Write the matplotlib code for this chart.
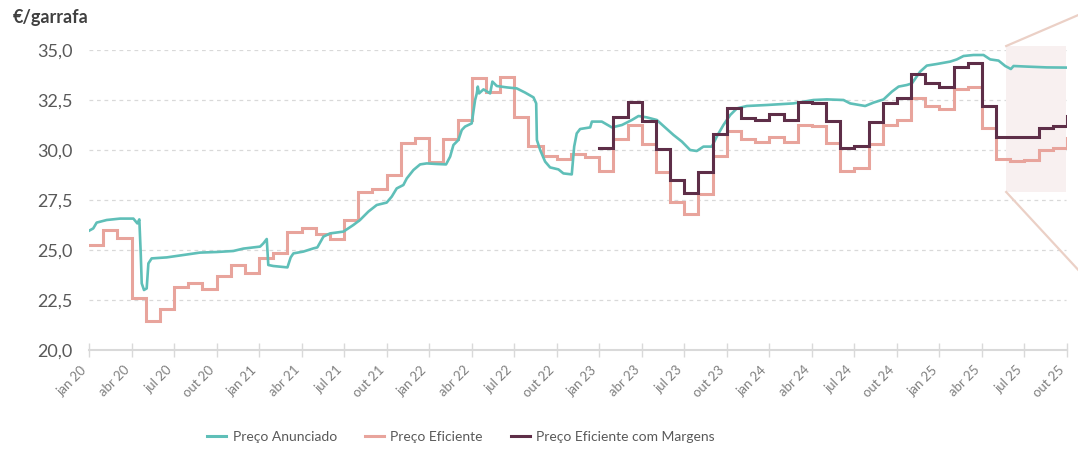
import matplotlib
matplotlib.use("Agg")
import matplotlib.pyplot as plt
from matplotlib.patches import Rectangle
from matplotlib.lines import Line2D
from matplotlib.ticker import FuncFormatter, FixedLocator

plt.rcParams['font.family'] = ['Lato', 'DejaVu Sans']

# ---------------- data ----------------
# x axis: months since jan 2020 (0 = jan 20, 69 = out 25)
month_names = ["jan", "abr", "jul", "out"]
years = ["20", "21", "22", "23", "24", "25"]
tick_labels = [f"{m} {y}" for y in years for m in month_names]

# Preço Anunciado (continuous series): month position, value
anunciado_x = [0.02, 0.30, 0.54, 1.25, 2.19, 3.13, 3.41, 3.55, 3.65, 3.72, 3.88, 4.07, 4.19, 4.42,
               5.48, 6.66, 7.83, 9.01, 10.18, 10.89, 12.07, 12.30, 12.54, 12.65, 13.00, 14.00,
               14.23, 14.42, 15.12, 15.83, 16.11, 16.54, 17.01, 17.95, 18.65, 19.12, 19.71, 20.30,
               21.00, 21.36, 21.71, 22.18, 22.42, 22.89, 23.36, 23.83, 24.53, 25.19, 25.48, 25.71,
               26.06, 26.30, 26.53, 27.00, 27.24, 27.36, 27.43, 27.52, 27.83, 28.30, 28.46, 28.77,
               29.48, 30.18, 30.77, 31.36, 31.55, 31.60, 31.83, 32.18, 32.53, 33.12, 33.47, 34.06,
               34.23, 34.41, 34.65, 35.36, 35.48, 36.18, 36.89, 37.60, 38.30, 38.77, 39.36, 40.06,
               40.53, 41.24, 41.83, 42.41, 42.88, 43.35, 43.94, 44.29, 44.76, 45.24, 45.71, 46.41,
               47.82, 49.70, 51.11, 52.06, 53.23, 53.70, 54.76, 55.35, 56.06, 56.65, 57.12, 57.70,
               58.06, 58.64, 59.11, 59.82, 60.76, 61.23, 61.70, 62.40, 63.11, 63.58, 64.17, 64.64,
               65.04, 65.23, 66.17, 67.58, 69.00]
anunciado_y = [25.97, 26.08, 26.37, 26.50, 26.57, 26.57, 26.33, 26.53, 24.83, 23.33, 23.00, 23.08, 24.33, 24.58,
               24.63, 24.75, 24.87, 24.90, 24.95, 25.07, 25.17, 25.33, 25.55, 24.25, 24.20, 24.13,
               24.63, 24.83, 24.92, 25.08, 25.13, 25.67, 25.83, 25.92, 26.25, 26.50, 26.92, 27.25,
               27.37, 27.67, 28.08, 28.25, 28.58, 29.00, 29.28, 29.33, 29.30, 29.28, 29.67, 30.25,
               30.50, 31.00, 31.17, 31.33, 32.50, 32.83, 33.17, 32.83, 33.03, 32.83, 33.42, 33.20,
               33.13, 33.08, 32.87, 32.63, 32.33, 30.50, 30.00, 29.42, 29.13, 29.03, 28.83, 28.78,
               30.17, 30.83, 31.05, 31.13, 31.42, 31.42, 31.13, 31.25, 31.50, 31.70, 31.63, 31.50,
               31.20, 30.75, 30.42, 30.00, 29.95, 30.17, 30.17, 30.67, 31.25, 31.75, 32.08, 32.20,
               32.25, 32.33, 32.50, 32.53, 32.50, 32.33, 32.20, 32.37, 32.53, 32.92, 33.17, 33.25,
               33.33, 33.92, 34.22, 34.30, 34.42, 34.53, 34.70, 34.75, 34.75, 34.53, 34.47, 34.20,
               34.05, 34.20, 34.17, 34.13, 34.12]

# Preço Eficiente (monthly steps, jan 20 .. out 25)
eficiente = [25.25, 26.00, 25.58, 22.62, 21.47, 22.07, 23.13, 23.33, 23.03, 23.68, 24.23, 23.83,
             24.58, 24.83, 25.88, 26.12, 25.80, 25.53, 26.50, 27.92, 28.05, 28.75, 30.37, 30.58,
             29.38, 30.55, 31.50, 33.62, 32.92, 33.67, 31.67, 30.20, 29.70, 29.53, 29.80, 29.63,
             28.97, 30.53, 31.23, 30.28, 28.90, 27.42, 26.80, 27.80, 29.70, 30.97, 30.53, 30.42,
             30.67, 30.42, 31.23, 31.20, 30.33, 28.97, 29.12, 30.28, 31.25, 31.50, 32.62, 32.22,
             32.03, 33.05, 33.17, 31.12, 29.53, 29.47, 29.50, 30.00, 30.08, 30.58]

# Preço Eficiente com Margens (monthly steps, jan 23 .. out 25)
margens_start = 36
margens = [30.08, 31.63, 32.38, 31.45, 30.03, 28.50, 27.83, 28.88, 30.78, 32.08, 31.62, 31.50,
           31.80, 31.50, 32.38, 32.33, 31.45, 30.08, 30.20, 31.38, 32.33, 32.58, 33.78, 33.37,
           33.17, 34.17, 34.33, 32.22, 30.67, 30.63, 30.67, 31.12, 31.22, 31.72]

# highlighted window (zoom box)
zoom_x = (64.71, 68.95)
zoom_y = (27.9, 35.2)

# ---------------- style ----------------
c_teal = "#5fbfb8"
c_pink = "#e8a49c"
c_dark = "#5e2e48"
c_grid = "#d9d9d9"
c_text = "#595959"

W, H = 1078, 451
fig = plt.figure(figsize=(W / 100, H / 100), dpi=100)
ax = fig.add_axes([89 / W, (H - 350) / H, (1067 - 89) / W, 300 / H])

ax.step(range(len(eficiente)), eficiente, where="post", color=c_pink, lw=2.2, zorder=2,
        solid_joinstyle="miter")
ax.plot(anunciado_x, anunciado_y, color=c_teal, lw=1.9, zorder=3)
ax.step(range(margens_start, margens_start + len(margens)), margens, where="post",
        color=c_dark, lw=2.2, zorder=4, solid_joinstyle="miter")

ax.set_xlim(0, 69)
ax.set_ylim(20, 35)

# zoom box and connector lines
ax.add_patch(Rectangle((zoom_x[0], zoom_y[0]), zoom_x[1] - zoom_x[0], zoom_y[1] - zoom_y[0],
                       facecolor="#f8f0f0", edgecolor="none", zorder=0.5, clip_on=False))
ax.plot([zoom_x[0], 69.8], [zoom_y[1], 36.75], color="#ebd0c6", lw=1.6, clip_on=False, zorder=1)
ax.plot([zoom_x[0], 69.8], [zoom_y[0], 24.0], color="#ebd0c6", lw=1.6, clip_on=False, zorder=1)

# grid
for v in [22.5, 25, 27.5, 30, 32.5, 35]:
    ax.axhline(v, color=c_grid, lw=0.9, ls=(0, (3, 3)), zorder=0.2, xmax=0.999)

for s in ["top", "right", "left"]:
    ax.spines[s].set_visible(False)
ax.spines["bottom"].set_color(c_grid)
ax.spines["bottom"].set_linewidth(1.5)

ax.yaxis.set_major_locator(FixedLocator([20, 22.5, 25, 27.5, 30, 32.5, 35]))
ax.yaxis.set_major_formatter(FuncFormatter(lambda v, p: f"{v:.1f}".replace(".", ",")))
ax.tick_params(axis="y", length=0, pad=12, labelsize=13, labelcolor=c_text)

ax.set_xticks(range(0, 70, 3))
ax.set_xticklabels(tick_labels, rotation=45, ha="right")
ax.tick_params(axis="x", direction="inout", length=10, width=1, color=c_grid, pad=5,
               labelsize=9.5, labelcolor="#7f7f7f")

fig.text(13 / W, 1 - 17 / H, "€/garrafa", fontsize=13, fontweight="bold", color="#404040",
         va="center", ha="left")

handles = [Line2D([], [], color=c_teal, lw=2.2),
           Line2D([], [], color=c_pink, lw=2.2),
           Line2D([], [], color=c_dark, lw=2.2)]
labels = ["Preço Anunciado", "Preço Eficiente", "Preço Eficiente com Margens"]
leg = fig.legend(handles, labels, loc="center", bbox_to_anchor=(461 / W, 1 - 437 / H), ncol=3,
                 frameon=False, fontsize=10, handlelength=1.4, handletextpad=0.45,
                 columnspacing=2.0, labelcolor=c_text)

fig.savefig("out.png", dpi=100)
